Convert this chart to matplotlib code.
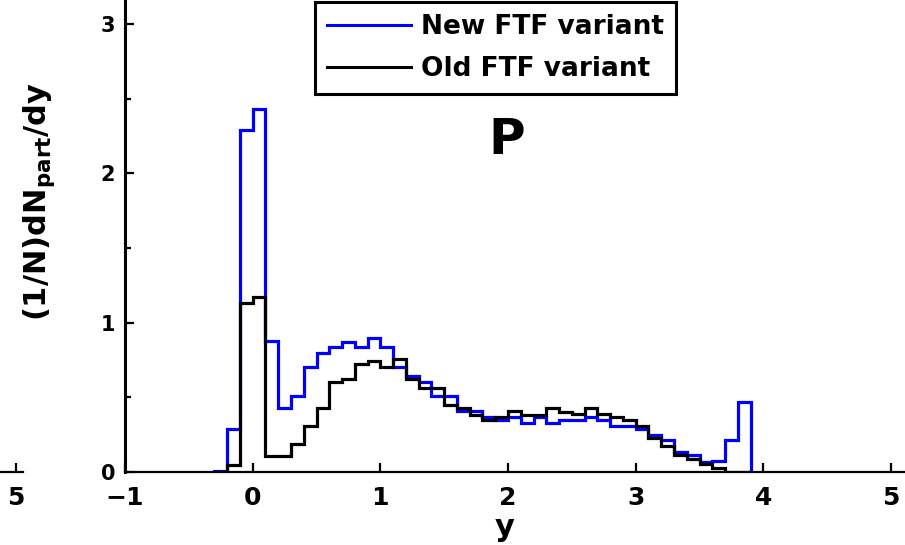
import numpy as np
import matplotlib
matplotlib.use('Agg')
import matplotlib.pyplot as plt
from matplotlib.lines import Line2D

plt.rcParams['font.family'] = ['DejaVu Sans']
plt.rcParams['font.weight'] = 'bold'
plt.rcParams['mathtext.fontset'] = 'dejavusans'

# bin edges in y, width 0.1
edges = np.round(np.arange(-0.3, 3.95, 0.1), 2)

new_ftf = [0.01, 0.29, 2.29, 2.43, 0.88, 0.43, 0.51, 0.70, 0.80, 0.835,
           0.87, 0.835, 0.895, 0.84, 0.70, 0.645, 0.60, 0.51, 0.51, 0.41,
           0.41, 0.365, 0.35, 0.37, 0.325, 0.37, 0.325, 0.35, 0.35, 0.37,
           0.35, 0.31, 0.31, 0.285, 0.25, 0.215, 0.135, 0.115, 0.07, 0.075,
           0.215, 0.47]
old_ftf = [0.0, 0.05, 1.13, 1.17, 0.11, 0.11, 0.19, 0.31, 0.43, 0.605,
           0.625, 0.725, 0.74, 0.705, 0.76, 0.62, 0.56, 0.56, 0.45, 0.43,
           0.385, 0.35, 0.37, 0.41, 0.385, 0.385, 0.43, 0.405, 0.39, 0.43,
           0.39, 0.365, 0.345, 0.31, 0.23, 0.175, 0.115, 0.09, 0.055, 0.03,
           0.0, 0.0]

xticks = [-1, 0, 1, 2, 3, 4, 5]
xticklabels = ['\u22121', '0', '1', '2', '3', '4', '5']
yticks = [0, 1, 2, 3]
yminor = [0.5, 1.5, 2.5]
labels = ['New FTF variant', 'Old FTF variant']

W, H = 905, 545
fig = plt.figure(figsize=(W / 100, H / 100), dpi=100)

ax = fig.add_axes([125 / W, 73 / H, 1 - 125 / W, 472 / H])
ax.stairs(new_ftf, edges, color='blue', lw=2.3)
ax.stairs(old_ftf, edges, color='black', lw=2.3)
ax.set_xlim(-1, 5 + 14 / 127.67)
ax.set_ylim(0, 472 / 149.33)
for s in ['top', 'right']:
    ax.spines[s].set_visible(False)
ax.spines['left'].set_linewidth(2.2)
ax.spines['bottom'].set_linewidth(1.6)
ax.set_xticks(xticks, xticklabels)
ax.set_yticks(yticks)
ax.set_yticks(yminor, minor=True)
ax.tick_params(direction='in', length=6.5, width=1.6)
ax.tick_params(axis='x', labelsize=18, pad=10)
ax.tick_params(axis='y', labelsize=15, pad=7)
ax.tick_params(axis='y', which='minor', direction='in', length=4, width=1.6)

# piece of the neighbouring panel on the left
ax2 = fig.add_axes([0, 73 / H, 23 / W, 0.05])
ax2.set_xlim(5 - 15.7 / 127.67, 5 + 7.3 / 127.67)
ax2.set_ylim(0, 1)
for s in ['top', 'right', 'left']:
    ax2.spines[s].set_visible(False)
ax2.spines['bottom'].set_linewidth(1.6)
ax2.patch.set_visible(False)
ax2.set_xticks([5], ['5'])
ax2.set_yticks([])
ax2.tick_params(direction='in', length=6.5, width=1.6, labelsize=18, pad=10)

fig.text(507 / W, 1 - 140 / H, 'P', fontsize=36, fontweight='bold',
         ha='center', va='center')
fig.text(505 / W, 1 - 527 / H, 'y', fontsize=22, fontweight='bold',
         ha='center', va='center')
fig.text(39 / W, 1 - 202 / H, r'(1/N)dN$_{\mathbf{part}}$/dy', fontsize=22,
         fontweight='bold', rotation=90, ha='center', va='center')

handles = [Line2D([], [], color='blue', lw=2.2), Line2D([], [], color='black', lw=2.2)]
leg = fig.legend(handles, labels, loc='upper left',
                 bbox_to_anchor=(315 / W, 1 - 2 / H), frameon=True,
                 fancybox=False, edgecolor='black', framealpha=1,
                 prop=dict(weight='bold', size=19), handlelength=3.2,
                 handletextpad=0.38, borderpad=0.45, labelspacing=0.63,
                 borderaxespad=0)
leg.get_frame().set_linewidth(2.2)

fig.savefig('out.png', dpi=100)
